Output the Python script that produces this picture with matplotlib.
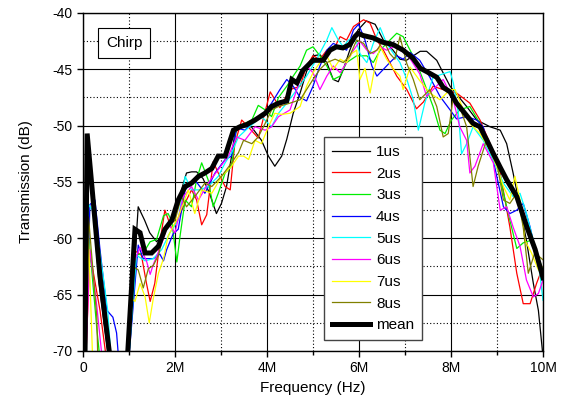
import matplotlib
matplotlib.use('Agg')
from matplotlib import pyplot as plt
from matplotlib.ticker import MultipleLocator, FixedLocator

plt.rcParams['font.family'] = ['Liberation Sans', 'DejaVu Sans']
plt.rcParams['axes.unicode_minus'] = False

# (frequency in MHz, transmission in dB)
# values below -70 mark where a curve leaves the bottom of the plot
us1 = [(0.05, -72), (0.1, -51.5), (0.35, -64), (0.6, -72), (0.97, -72), (1.2, -57.2),
       (1.34, -58.4), (1.45, -59.5), (1.6, -60.3), (1.71, -59.8), (1.85, -58.7),
       (2.0, -57.8), (2.14, -55.7), (2.25, -54.2), (2.36, -54.1), (2.47, -54.1),
       (2.61, -54.7), (2.75, -56.0), (2.9, -57.8), (3.01, -56.9), (3.12, -55.4),
       (3.23, -52.7), (3.3, -50.7), (3.41, -50.1), (3.66, -50.1), (3.88, -51.3),
       (4.03, -52.7), (4.17, -53.6), (4.32, -52.7), (4.43, -51.2), (4.57, -48.9),
       (4.72, -47.1), (4.86, -45.2), (5.0, -43.8), (5.15, -43.7), (5.3, -44.4),
       (5.44, -45.9), (5.55, -46.1), (5.66, -45.0), (5.8, -43.3), (5.98, -41.5),
       (6.16, -40.7), (6.35, -41.0), (6.53, -42.4), (6.74, -43.3), (6.89, -44.1),
       (7.03, -44.2), (7.33, -43.4), (7.47, -43.4), (7.69, -44.2), (7.84, -45.4),
       (7.98, -46.5), (8.34, -48.3), (8.56, -49.5), (8.85, -50.1), (9.07, -50.4),
       (9.21, -51.6), (9.35, -54.2), (9.5, -57.2), (9.64, -60.2), (9.79, -64.0),
       (9.9, -66.4), (10.0, -70.5)]
us2 = [(0.05, -72), (0.15, -61.3), (0.37, -66.4), (0.55, -72), (0.97, -72), (1.09, -61.0),
       (1.27, -61.5), (1.38, -64.0), (1.46, -65.6), (1.56, -64.0), (1.67, -60.4),
       (1.78, -57.5), (1.93, -59.2), (2.07, -58.2), (2.25, -56.6), (2.36, -55.7),
       (2.47, -56.6), (2.58, -58.8), (2.69, -57.9), (2.83, -53.2), (2.94, -54.2),
       (3.09, -55.4), (3.2, -55.7), (3.3, -51.6), (3.45, -49.5), (3.59, -50.1),
       (3.81, -51.1), (4.07, -47.0), (4.28, -48.4), (4.5, -46.8), (4.72, -46.5),
       (4.86, -44.7), (5.0, -43.8), (5.15, -44.1), (5.3, -43.3), (5.44, -43.3),
       (5.59, -42.1), (5.73, -42.4), (5.88, -41.2), (6.1, -40.6), (6.24, -40.9),
       (6.39, -42.4), (6.53, -43.3), (6.67, -44.4), (6.82, -45.6), (7.04, -46.8),
       (7.25, -48.5), (7.4, -47.9), (7.61, -46.5), (7.83, -46.8), (8.12, -47.1),
       (8.41, -48.0), (8.63, -49.5), (8.85, -51.6), (9.07, -54.2), (9.28, -59.0),
       (9.43, -63.1), (9.57, -65.8), (9.72, -65.8), (9.86, -64.0), (10.0, -62.5)]
us3 = [(0.05, -72), (0.13, -60), (0.3, -68), (0.4, -72), (0.97, -72), (1.16, -61.5),
       (1.31, -61.3), (1.46, -60.3), (1.6, -60.1), (1.75, -58.0), (1.85, -57.8),
       (1.93, -58.5), (2.04, -62.1), (2.11, -59.8), (2.22, -56.6), (2.36, -57.2),
       (2.47, -54.8), (2.58, -53.3), (2.72, -54.8), (2.83, -57.2), (2.94, -56.0),
       (3.09, -54.2), (3.23, -53.6), (3.34, -50.1), (3.52, -49.8), (3.67, -49.5),
       (3.81, -48.2), (3.96, -48.6), (4.1, -49.2), (4.25, -47.5), (4.43, -46.5),
       (4.57, -45.6), (4.72, -44.7), (4.86, -43.3), (5.0, -43.0), (5.15, -43.8),
       (5.3, -44.7), (5.44, -45.9), (5.59, -45.6), (5.73, -44.4), (5.95, -43.8),
       (6.17, -43.8), (6.31, -44.4), (6.46, -43.3), (6.6, -42.7), (6.82, -41.8),
       (6.96, -42.1), (7.11, -43.3), (7.25, -44.4), (7.4, -46.0), (7.61, -48.3),
       (7.76, -50.4), (7.87, -50.7), (8.01, -49.5), (8.19, -48.6), (8.41, -48.3),
       (8.63, -49.8), (8.85, -51.9), (8.99, -53.1), (9.14, -56.0), (9.28, -58.4),
       (9.43, -60.9), (9.57, -60.4), (9.72, -60.2), (9.86, -61.3), (10.0, -62.8)]
us4 = [(0.05, -72), (0.15, -57), (0.26, -56.6), (0.37, -61.0), (0.52, -66.4), (0.65, -67.0),
       (0.73, -68.4), (0.8, -72), (0.97, -72), (1.2, -60.6), (1.31, -61.8), (1.53, -61.8),
       (1.67, -61.4), (1.75, -62.0), (1.82, -61.0), (1.96, -59.6), (2.07, -59.2),
       (2.22, -55.7), (2.43, -54.8), (2.65, -56.0), (2.87, -54.2), (3.09, -53.0),
       (3.23, -52.7), (3.34, -50.2), (3.52, -50.4), (3.67, -49.8), (3.88, -49.2),
       (4.1, -48.0), (4.28, -46.8), (4.43, -45.9), (4.57, -46.5), (4.72, -47.5),
       (4.86, -47.8), (5.0, -46.5), (5.15, -44.7), (5.3, -43.3), (5.44, -42.7),
       (5.59, -43.0), (5.73, -43.3), (5.88, -41.5), (5.99, -41.0), (6.13, -42.4),
       (6.28, -44.7), (6.39, -45.6), (6.53, -45.0), (6.67, -44.4), (6.82, -43.8),
       (6.96, -44.1), (7.11, -43.5), (7.32, -44.2), (7.54, -45.7), (7.76, -47.4),
       (7.98, -48.6), (8.12, -49.4), (8.34, -49.2), (8.56, -49.5), (8.7, -50.1),
       (8.92, -53.1), (9.14, -57.2), (9.28, -57.8), (9.43, -57.5), (9.57, -56.9),
       (9.72, -59.0), (9.86, -61.6), (10.0, -63.7)]
us5 = [(0.05, -72), (0.12, -57), (0.24, -57.7), (0.44, -63.4), (0.54, -66.5), (0.63, -72),
       (0.97, -72), (1.16, -61.5), (1.35, -62.0), (1.53, -61.8), (1.71, -61.0),
       (1.89, -59.5), (2.07, -58.4), (2.22, -54.5), (2.36, -55.7), (2.54, -55.7),
       (2.72, -55.4), (2.94, -54.5), (3.09, -53.3), (3.23, -52.4), (3.38, -51.0),
       (3.59, -50.2), (3.88, -49.2), (4.1, -50.1), (4.25, -48.9), (4.43, -48.0),
       (4.65, -46.8), (4.86, -45.6), (5.08, -44.1), (5.3, -42.4), (5.41, -41.3),
       (5.55, -42.4), (5.66, -43.0), (5.77, -42.4), (5.91, -42.1), (6.02, -43.6),
       (6.17, -44.4), (6.31, -42.7), (6.46, -41.3), (6.6, -42.7), (6.75, -43.6),
       (6.89, -44.4), (7.04, -45.9), (7.18, -47.7), (7.29, -50.4), (7.43, -48.0),
       (7.61, -45.7), (7.83, -45.4), (7.98, -45.2), (8.05, -46.2), (8.16, -48.9),
       (8.23, -52.5), (8.34, -51.6), (8.48, -50.1), (8.7, -51.3), (8.92, -53.1),
       (9.14, -55.1), (9.35, -56.3), (9.5, -56.0), (9.64, -57.8), (9.79, -60.2),
       (9.93, -63.1), (10.0, -65.5)]
us6 = [(0.05, -72), (0.15, -61), (0.3, -66), (0.45, -72), (0.97, -72), (1.09, -62.3),
       (1.24, -60.8), (1.38, -62.0), (1.46, -63.2), (1.53, -62.3), (1.71, -60.5),
       (1.85, -58.7), (2.0, -59.5), (2.18, -56.3), (2.36, -55.4), (2.51, -56.6),
       (2.72, -55.1), (2.94, -53.9), (3.16, -52.7), (3.34, -51.0), (3.52, -51.3),
       (3.74, -50.1), (3.96, -50.4), (4.1, -50.1), (4.25, -49.2), (4.5, -48.6),
       (4.72, -45.9), (4.86, -44.7), (5.0, -45.3), (5.15, -46.8), (5.3, -45.6),
       (5.44, -44.7), (5.59, -45.3), (5.73, -44.4), (5.88, -43.3), (6.02, -42.5),
       (6.17, -43.3), (6.31, -43.6), (6.46, -43.0), (6.6, -43.3), (6.75, -43.0),
       (6.89, -43.3), (7.04, -43.6), (7.18, -44.5), (7.32, -45.4), (7.47, -47.4),
       (7.61, -46.8), (7.83, -45.9), (8.05, -47.7), (8.19, -50.1), (8.34, -51.3),
       (8.41, -54.2), (8.52, -53.6), (8.7, -51.6), (8.92, -53.3), (9.07, -57.5),
       (9.21, -57.2), (9.35, -59.0), (9.5, -60.7), (9.64, -63.7), (9.79, -65.2),
       (9.9, -64.9), (10.0, -63.7)]
us7 = [(0.05, -72), (0.12, -60), (0.22, -72), (0.97, -72), (1.02, -65.2), (1.13, -65.6),
       (1.24, -64.0), (1.35, -65.2), (1.44, -67.5), (1.53, -65.3), (1.64, -63.1),
       (1.75, -61.8), (1.85, -59.8), (2.07, -58.1), (2.29, -55.7), (2.43, -57.8),
       (2.58, -55.7), (2.8, -56.0), (3.01, -54.5), (3.23, -53.6), (3.38, -52.7),
       (3.49, -52.7), (3.6, -53.0), (3.74, -51.3), (3.88, -51.6), (4.03, -50.1),
       (4.17, -48.9), (4.32, -49.0), (4.5, -48.9), (4.72, -48.3), (4.86, -46.5),
       (5.0, -45.3), (5.15, -44.4), (5.3, -43.8), (5.44, -45.0), (5.59, -44.1),
       (5.73, -44.4), (5.84, -43.6), (5.95, -43.3), (6.02, -45.9), (6.13, -44.9),
       (6.24, -47.1), (6.35, -44.7), (6.46, -43.0), (6.6, -44.1), (6.75, -45.0),
       (6.89, -45.6), (6.96, -46.8), (7.11, -44.8), (7.32, -46.0), (7.54, -47.1),
       (7.76, -47.7), (7.98, -46.8), (8.09, -46.8), (8.27, -48.6), (8.41, -49.8),
       (8.63, -50.7), (8.85, -52.2), (8.99, -53.6), (9.14, -55.4), (9.28, -56.6),
       (9.39, -54.5), (9.5, -56.6), (9.61, -60.2), (9.75, -61.3), (9.9, -62.8),
       (10.0, -63.1)]
us8 = [(0.05, -72), (0.12, -58.1), (0.3, -67), (0.33, -72), (0.97, -72), (1.09, -62.5),
       (1.2, -62.8), (1.31, -64.4), (1.42, -62.7), (1.53, -62.4), (1.64, -61.5),
       (1.78, -59.2), (2.0, -58.4), (2.14, -56.3), (2.25, -57.2), (2.43, -56.3),
       (2.65, -55.1), (2.8, -55.4), (3.01, -54.5), (3.23, -53.3), (3.38, -52.4),
       (3.49, -51.3), (3.67, -51.6), (3.81, -51.0), (3.96, -49.8), (4.1, -48.6),
       (4.25, -48.3), (4.5, -48.0), (4.72, -47.7), (4.86, -46.8), (5.0, -45.9),
       (5.15, -45.0), (5.3, -44.4), (5.48, -44.1), (5.66, -44.4), (5.8, -43.8),
       (5.95, -42.4), (6.1, -42.7), (6.24, -43.6), (6.39, -43.3), (6.53, -42.4),
       (6.67, -43.6), (6.78, -44.1), (6.89, -42.1), (7.04, -44.5), (7.18, -45.9),
       (7.32, -47.7), (7.54, -46.8), (7.69, -48.3), (7.83, -51.0), (7.94, -50.7),
       (8.05, -47.4), (8.19, -48.3), (8.34, -50.1), (8.48, -55.4), (8.59, -53.6),
       (8.77, -51.3), (8.99, -53.1), (9.14, -56.6), (9.28, -56.9), (9.43, -56.0),
       (9.57, -59.0), (9.68, -63.1), (9.82, -61.3), (10.0, -61.9)]
mean = [(0.04, -72), (0.09, -50.7), (0.37, -63.4), (0.6, -71), (0.96, -71), (1.13, -59.2),
        (1.24, -59.5), (1.35, -61.3), (1.49, -61.3), (1.64, -60.7), (1.78, -59.2),
        (1.93, -58.4), (2.07, -56.6), (2.22, -55.4), (2.36, -55.1), (2.51, -54.5),
        (2.65, -54.2), (2.8, -53.8), (2.94, -52.7), (3.09, -52.7), (3.16, -51.8),
        (3.27, -50.4), (3.41, -50.1), (3.56, -49.9), (3.74, -49.5), (3.96, -48.9),
        (4.1, -48.3), (4.25, -48.0), (4.43, -47.8), (4.54, -45.9), (4.65, -46.2),
        (4.78, -45.1), (5.0, -44.2), (5.22, -44.2), (5.37, -43.3), (5.51, -43.0),
        (5.65, -43.1), (5.8, -42.8), (5.91, -42.1), (5.98, -41.8), (6.09, -42.0),
        (6.3, -42.2), (6.52, -42.6), (6.74, -42.8), (6.96, -43.3), (7.17, -44.0),
        (7.33, -44.9), (7.47, -45.2), (7.69, -45.7), (7.83, -46.6), (7.98, -47.0),
        (8.12, -48.0), (8.34, -49.1), (8.48, -49.8), (8.63, -50.1), (8.78, -51.3),
        (8.91, -52.4), (9.07, -53.7), (9.21, -54.8), (9.43, -56.3), (9.65, -59.0),
        (9.83, -61.0), (10.0, -63.5)]

labels = ['1us', '2us', '3us', '4us', '5us', '6us', '7us', '8us']
colors = ['black', '#ff0000', '#00ee00', '#0000ff', '#00ffff', '#ff00ff', '#ffff00', '#808000']
x_ticks = [0, 2, 4, 6, 8, 10]
x_ticklabels = ['0', '2M', '4M', '6M', '8M', '10M']

fig = plt.figure(figsize=(5.69, 4.05), dpi=100)
ax = fig.add_axes([83 / 569, 54 / 405, 460 / 569, 338 / 405])

for series, lab, col in zip([us1, us2, us3, us4, us5, us6, us7, us8], labels, colors):
    f, db = zip(*series)
    ax.plot(f, db, color=col, lw=0.9, label=lab)
f, db = zip(*mean)
ax.plot(f, db, color='black', lw=3.6, label='mean', solid_joinstyle='miter')

ax.set_xlim(0, 10)
ax.set_ylim(-70, -40)
ax.xaxis.set_major_locator(FixedLocator(x_ticks))
ax.set_xticklabels(x_ticklabels)
ax.xaxis.set_minor_locator(MultipleLocator(1))
ax.yaxis.set_major_locator(MultipleLocator(5))
ax.yaxis.set_minor_locator(MultipleLocator(2.5))
ax.tick_params(which='major', direction='out', length=4, width=1, labelsize=10)
ax.tick_params(axis='x', which='minor', direction='out', length=3, width=1)
ax.tick_params(axis='y', which='minor', length=0)

ax.grid(which='major', color='black', lw=0.8, ls='-')
ax.grid(which='minor', color='black', lw=0.8, ls=(0, (1, 2)))
ax.set_axisbelow(True)
for s in ax.spines.values():
    s.set_linewidth(1.0)

ax.set_xlabel('Frequency (Hz)', fontsize=11)
ax.set_ylabel('Transmission (dB)', fontsize=11, labelpad=14)

ax.text(0.089, 0.911, 'Chirp', transform=ax.transAxes, fontsize=11,
        ha='center', va='center',
        bbox=dict(boxstyle='square,pad=0.5', fc='white', ec='black', lw=0.8))

leg = ax.legend(loc='lower left', bbox_to_anchor=(0.524, 0.033), borderaxespad=0,
                fontsize=11, handlelength=2.5, labelspacing=0.5, handletextpad=0.4,
                borderpad=0.5, fancybox=False, framealpha=1, edgecolor='#444444')
leg.get_frame().set_linewidth(1.0)

plt.savefig('out.png', dpi=100)
plt.close('all')
